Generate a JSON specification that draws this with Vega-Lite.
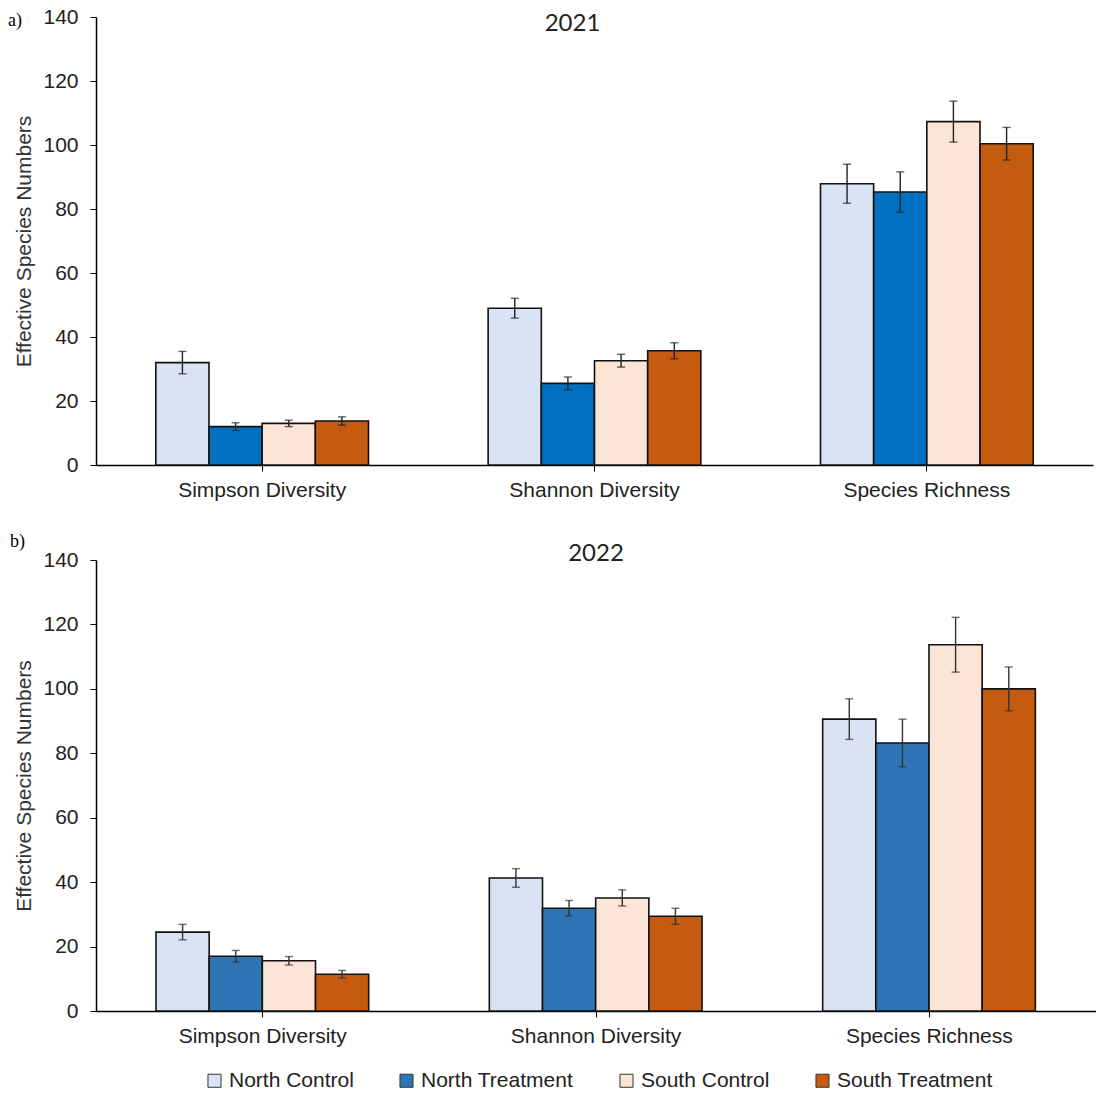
{
  "$schema": "https://vega.github.io/schema/vega-lite/v6.json",
  "background": "white",
  "padding": {"left": 8, "top": 6, "right": 0, "bottom": 0},
  "config": {
    "view": {"stroke": null},
    "axis": {"labelFont": "Liberation Sans", "labelFontSize": 21, "labelColor": "#222", "titleFont": "Liberation Sans", "titleFontSize": 21, "titleFontWeight": "normal", "titleColor": "#333", "domainColor": "#000", "domainWidth": 1.5, "tickColor": "#000", "tickSize": 6, "grid": false},
    "legend": {"labelFont": "Liberation Sans", "labelFontSize": 21, "labelColor": "#222"}
  },
  "datasets": {
    "y2021": [
      {"metric": "Simpson Diversity", "group": "North Control", "value": 32.0, "lo": 28.5, "hi": 35.5},
      {"metric": "Simpson Diversity", "group": "North Treatment", "value": 12.0, "lo": 10.8, "hi": 13.2},
      {"metric": "Simpson Diversity", "group": "South Control", "value": 13.0, "lo": 12.0, "hi": 14.0},
      {"metric": "Simpson Diversity", "group": "South Treatment", "value": 13.75, "lo": 12.45, "hi": 15.05},
      {"metric": "Shannon Diversity", "group": "North Control", "value": 49.0, "lo": 45.9, "hi": 52.1},
      {"metric": "Shannon Diversity", "group": "North Treatment", "value": 25.5, "lo": 23.5, "hi": 27.5},
      {"metric": "Shannon Diversity", "group": "South Control", "value": 32.6, "lo": 30.6, "hi": 34.6},
      {"metric": "Shannon Diversity", "group": "South Treatment", "value": 35.7, "lo": 33.2, "hi": 38.2},
      {"metric": "Species Richness", "group": "North Control", "value": 87.9, "lo": 81.8, "hi": 94.0},
      {"metric": "Species Richness", "group": "North Treatment", "value": 85.3, "lo": 79.0, "hi": 91.6},
      {"metric": "Species Richness", "group": "South Control", "value": 107.3, "lo": 100.9, "hi": 113.7},
      {"metric": "Species Richness", "group": "South Treatment", "value": 100.4, "lo": 95.3, "hi": 105.5}
    ],
    "y2022": [
      {"metric": "Simpson Diversity", "group": "North Control", "value": 24.5, "lo": 22.1, "hi": 26.9},
      {"metric": "Simpson Diversity", "group": "North Treatment", "value": 17.0, "lo": 15.2, "hi": 18.8},
      {"metric": "Simpson Diversity", "group": "South Control", "value": 15.6, "lo": 14.3, "hi": 16.9},
      {"metric": "Simpson Diversity", "group": "South Treatment", "value": 11.4, "lo": 10.2, "hi": 12.6},
      {"metric": "Shannon Diversity", "group": "North Control", "value": 41.3, "lo": 38.4, "hi": 44.2},
      {"metric": "Shannon Diversity", "group": "North Treatment", "value": 31.9, "lo": 29.5, "hi": 34.3},
      {"metric": "Shannon Diversity", "group": "South Control", "value": 35.1, "lo": 32.6, "hi": 37.6},
      {"metric": "Shannon Diversity", "group": "South Treatment", "value": 29.4, "lo": 26.9, "hi": 31.9},
      {"metric": "Species Richness", "group": "North Control", "value": 90.6, "lo": 84.3, "hi": 96.9},
      {"metric": "Species Richness", "group": "North Treatment", "value": 83.2, "lo": 75.8, "hi": 90.6},
      {"metric": "Species Richness", "group": "South Control", "value": 113.7, "lo": 105.2, "hi": 122.2},
      {"metric": "Species Richness", "group": "South Treatment", "value": 100.0, "lo": 93.2, "hi": 106.8}
    ]
  },
  "spacing": 33,
  "resolve": {"scale": {"color": "independent"}, "legend": {"color": "independent"}},
  "vconcat": [
    {
      "title": {"text": "a)", "anchor": "start", "frame": "group", "font": "Liberation Serif", "fontSize": 18, "fontWeight": "normal", "color": "#000", "offset": -24, "dx": -88},
      "vconcat": [
        {
          "width": 997,
          "height": 448,
          "title": {"text": "2021", "font": "Lato", "fontSize": 24, "fontWeight": "normal", "color": "#222", "offset": -30, "dx": -22},
          "data": {"name": "y2021"},
          "encoding": {
            "x": {"field": "metric", "type": "nominal", "sort": ["Simpson Diversity", "Shannon Diversity", "Species Richness"], "scale": {"paddingInner": 0.36, "paddingOuter": 0.18}, "axis": {"title": null, "labelAngle": 0, "labelPadding": 8}},
            "xOffset": {"field": "group", "type": "nominal", "sort": ["North Control", "North Treatment", "South Control", "South Treatment"], "scale": {"paddingInner": 0, "paddingOuter": 0}}
          },
          "layer": [
            {
              "mark": {"type": "bar", "stroke": "#111", "strokeWidth": 1.6},
              "encoding": {
                "y": {"field": "value", "type": "quantitative", "scale": {"domain": [0, 140]}, "axis": {"title": "Effective Species Numbers", "values": [0, 20, 40, 60, 80, 100, 120, 140], "labelPadding": 12, "titlePadding": 8}},
                "color": {"field": "group", "type": "nominal", "sort": ["North Control", "North Treatment", "South Control", "South Treatment"], "scale": {"domain": ["North Control", "North Treatment", "South Control", "South Treatment"], "range": ["#DAE3F3", "#0070C0", "#FBE5D6", "#C55A11"]}, "legend": null}
              }
            },
            {
              "mark": {"type": "rule", "color": "#222", "strokeWidth": 1.4},
              "encoding": {"y": {"field": "lo", "type": "quantitative"}, "y2": {"field": "hi"}}
            },
            {
              "mark": {"type": "tick", "color": "#222", "size": 8, "thickness": 1.4},
              "encoding": {"y": {"field": "lo", "type": "quantitative"}}
            },
            {
              "mark": {"type": "tick", "color": "#222", "size": 8, "thickness": 1.4},
              "encoding": {"y": {"field": "hi", "type": "quantitative"}}
            }
          ]
        }
      ]
    },
    {
      "title": {"text": "b)", "anchor": "start", "frame": "group", "font": "Liberation Serif", "fontSize": 18, "fontWeight": "normal", "color": "#000", "offset": -9, "dx": -86},
      "vconcat": [
        {
          "width": 1000,
          "height": 451,
          "title": {"text": "2022", "font": "Lato", "fontSize": 24, "fontWeight": "normal", "color": "#222", "offset": -17},
          "data": {"name": "y2022"},
          "encoding": {
            "x": {"field": "metric", "type": "nominal", "sort": ["Simpson Diversity", "Shannon Diversity", "Species Richness"], "scale": {"paddingInner": 0.36, "paddingOuter": 0.18}, "axis": {"title": null, "labelAngle": 0, "labelPadding": 8}},
            "xOffset": {"field": "group", "type": "nominal", "sort": ["North Control", "North Treatment", "South Control", "South Treatment"], "scale": {"paddingInner": 0, "paddingOuter": 0}}
          },
          "layer": [
            {
              "mark": {"type": "bar", "stroke": "#111", "strokeWidth": 1.6},
              "encoding": {
                "y": {"field": "value", "type": "quantitative", "scale": {"domain": [0, 140]}, "axis": {"title": "Effective Species Numbers", "values": [0, 20, 40, 60, 80, 100, 120, 140], "labelPadding": 12, "titlePadding": 8}},
                "color": {"field": "group", "type": "nominal", "sort": ["North Control", "North Treatment", "South Control", "South Treatment"], "scale": {"domain": ["North Control", "North Treatment", "South Control", "South Treatment"], "range": ["#DAE3F3", "#2E75B6", "#FBE5D6", "#C55A11"]}, "legend": {"orient": "none", "legendX": 108, "legendY": 510, "direction": "horizontal", "title": null, "symbolType": "square", "symbolSize": 170, "symbolStrokeColor": "#333", "symbolStrokeWidth": 1, "symbolOpacity": 1, "columnPadding": 42, "labelOffset": 4}}
              }
            },
            {
              "mark": {"type": "rule", "color": "#333", "strokeWidth": 1.4},
              "encoding": {"y": {"field": "lo", "type": "quantitative"}, "y2": {"field": "hi"}}
            },
            {
              "mark": {"type": "tick", "color": "#333", "size": 8, "thickness": 1.4},
              "encoding": {"y": {"field": "lo", "type": "quantitative"}}
            },
            {
              "mark": {"type": "tick", "color": "#333", "size": 8, "thickness": 1.4},
              "encoding": {"y": {"field": "hi", "type": "quantitative"}}
            }
          ]
        }
      ]
    }
  ]
}
